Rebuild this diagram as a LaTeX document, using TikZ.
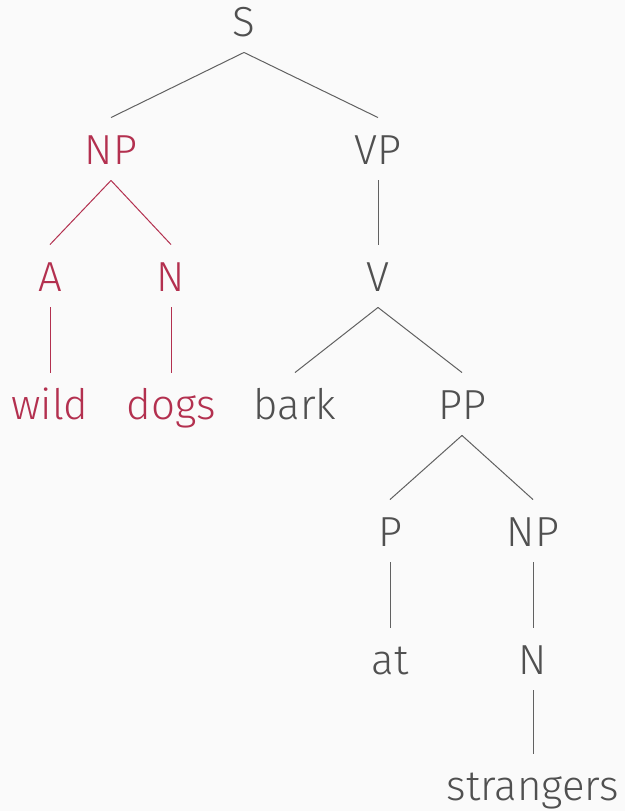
\documentclass[tikz,border=0pt]{standalone}
\usepackage{fontspec}
\setmainfont{Fira Sans}[UprightFont=* Light]
\definecolor{bg}{HTML}{FAFAFA}
\definecolor{txt}{HTML}{505050}
\definecolor{hl}{HTML}{B3304F}
\begin{document}
\begin{tikzpicture}[x=1pt,y=-1pt,
  lab/.style={font=\fontsize{42}{44}\selectfont, text=txt, text height=34.5pt, text depth=4pt, inner xsep=0pt, inner ysep=12pt},
  hlab/.style={lab, text=hl},
  edge/.style={draw=txt!90, line width=1pt},
  hedge/.style={draw=hl, line width=1pt}]
\fill[bg] (0,0) rectangle (625,811);
\useasboundingbox (0,0) rectangle (625,811);
\node[lab] (S) at (244,21) {S};
\node[hlab] (NP1) at (111,149) {NP};
\node[lab] (VP) at (378,149) {VP};
\node[hlab] (A) at (50,276) {A};
\node[hlab] (N1) at (171,276) {N};
\node[lab] (V) at (378,276) {V};
\node[hlab] (wild) at (50,404) {wild};
\node[hlab] (dogs) at (171,404) {dogs};
\node[lab] (bark) at (295,404) {bark};
\node[lab] (PP) at (462,404) {PP};
\node[lab] (P) at (390,531) {P};
\node[lab] (NP2) at (533,531) {NP};
\node[lab] (at) at (390,659) {at};
\node[lab] (N2) at (533,659) {N};
\node[lab] (str) at (533,785) {strangers};
\draw[edge] (S.south) -- (NP1.north);
\draw[edge] (S.south) -- (VP.north);
\draw[hedge] (NP1.south) -- (A.north);
\draw[hedge] (NP1.south) -- (N1.north);
\draw[hedge] (A.south) -- (wild.north);
\draw[hedge] (N1.south) -- (dogs.north);
\draw[edge] (VP.south) -- (V.north);
\draw[edge] (V.south) -- (bark.north);
\draw[edge] (V.south) -- (PP.north);
\draw[edge] (PP.south) -- (P.north);
\draw[edge] (PP.south) -- (NP2.north);
\draw[edge] (P.south) -- (at.north);
\draw[edge] (NP2.south) -- (N2.north);
\draw[edge] (N2.south) -- (str.north);
\end{tikzpicture}
\end{document}
